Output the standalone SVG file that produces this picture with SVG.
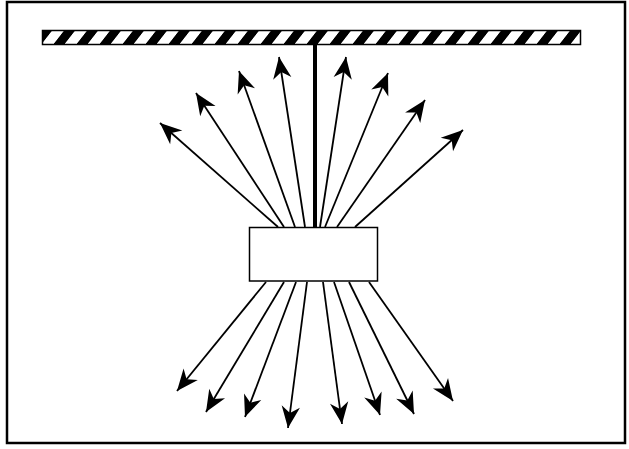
<svg xmlns="http://www.w3.org/2000/svg" width="629" height="449" viewBox="0 0 629 449">
<style>
.arr{stroke:#000;stroke-width:1.8;fill:none;marker-end:url(#head)}
</style>
<defs>
<marker id="head" markerUnits="userSpaceOnUse" markerWidth="26" markerHeight="26" viewBox="-22 -11 24 22" refX="0" refY="0" orient="auto">
<path d="M0,0 L-20,-8.5 L-14,0 L-20,8.5 Z" fill="#000"/>
</marker>
<pattern id="hatch" patternUnits="userSpaceOnUse" x="42" y="30" width="23" height="15" patternTransform="skewX(-38)">
<rect x="0" y="0" width="23" height="15" fill="#fff"/>
<rect x="0" y="0" width="11" height="15" fill="#000"/>
</pattern>
</defs>
<rect x="7" y="2" width="618" height="441" fill="#fff" stroke="#000" stroke-width="2.5"/>
<g id="ceiling">
<rect x="42.5" y="30.5" width="538" height="14" fill="url(#hatch)" stroke="#000" stroke-width="1.5"/>
</g>
<g id="string">
<line x1="315" y1="44" x2="315" y2="228" stroke="#000" stroke-width="4"/>
</g>
<g id="connectors">
<line class="arr" x1="278" y1="227" x2="160" y2="123"/>
<line class="arr" x1="284" y1="227" x2="196" y2="93"/>
<line class="arr" x1="295" y1="227" x2="239" y2="71"/>
<line class="arr" x1="305" y1="227" x2="279" y2="57"/>
<line class="arr" x1="320" y1="227" x2="346" y2="57"/>
<line class="arr" x1="325" y1="227" x2="388" y2="73"/>
<line class="arr" x1="337" y1="227" x2="425" y2="100"/>
<line class="arr" x1="355" y1="227" x2="463" y2="130"/>
<line class="arr" x1="266" y1="282" x2="177" y2="391"/>
<line class="arr" x1="284" y1="282" x2="206" y2="412"/>
<line class="arr" x1="296" y1="282" x2="245" y2="417"/>
<line class="arr" x1="307" y1="282" x2="288" y2="428"/>
<line class="arr" x1="323" y1="282" x2="342" y2="424"/>
<line class="arr" x1="334" y1="282" x2="380" y2="415"/>
<line class="arr" x1="349" y1="282" x2="414" y2="414"/>
<line class="arr" x1="369" y1="282" x2="453" y2="401"/>
</g>
<g id="box">
<rect x="249.5" y="227.5" width="128" height="53.5" fill="#fff" stroke="#000" stroke-width="1.5"/>
</g>
</svg>
